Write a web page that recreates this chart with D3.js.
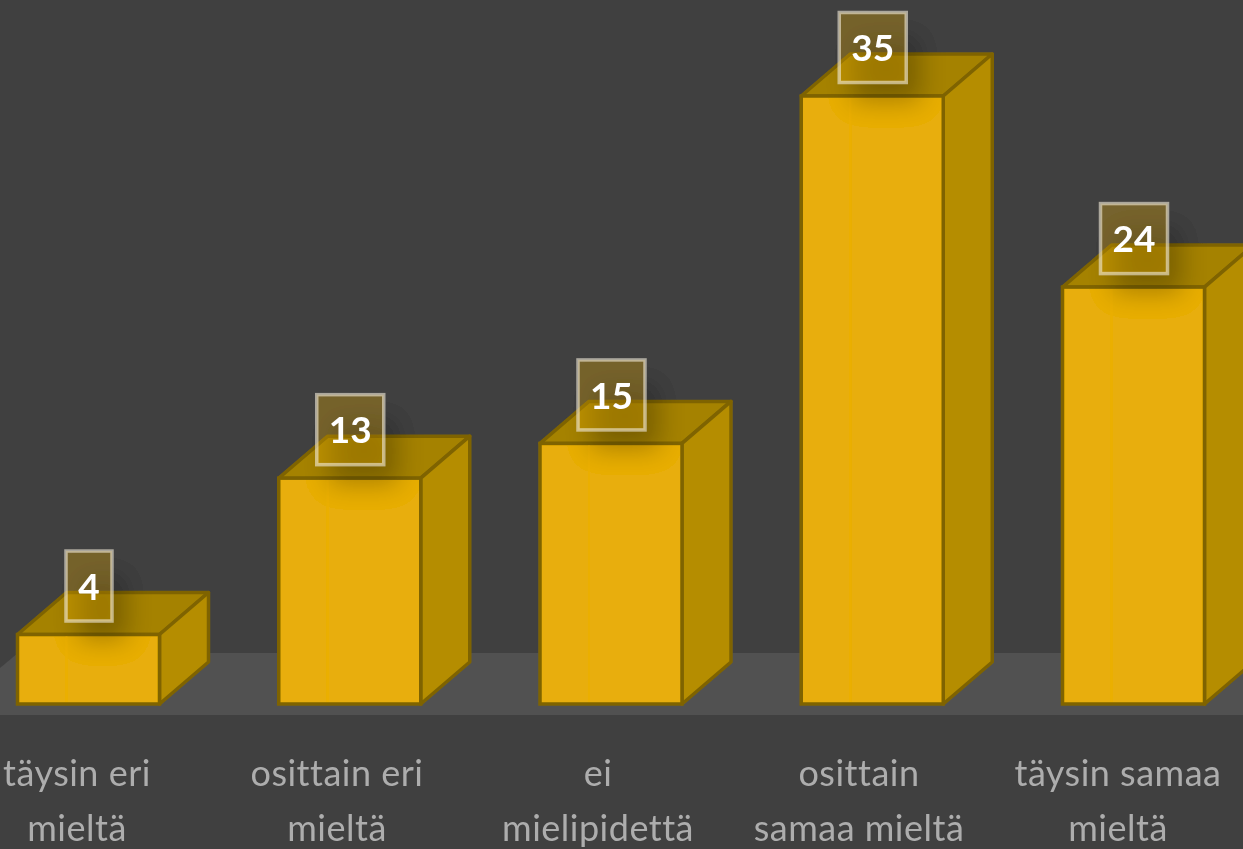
<!DOCTYPE html>
<html>
<head>
<meta charset="utf-8">
<script src="https://cdnjs.cloudflare.com/ajax/libs/d3/7.8.5/d3.min.js"></script>
<style>html,body{margin:0;padding:0;background:#404040;overflow:hidden}svg{display:block}</style>
</head>
<body>
<svg id="c" width="1243" height="849"></svg>
<script>
const categoryLines = [["täysin eri","mieltä"],["osittain eri","mieltä"],["ei","mielipidettä"],["osittain","samaa mieltä"],["täysin samaa","mieltä"]];
const values = [4,13,15,35,24];
const labelCentres = [77,337,598,859,1118];

const W=1243,H=849,dx=49,dy=-42,base=704;
const svg=d3.select("#c");
const defs=svg.append("defs");
defs.append("filter").attr("id","soft").attr("x","-5%").attr("y","-5%").attr("width","110%").attr("height","110%")
  .append("feGaussianBlur").attr("stdDeviation",0.7);
defs.append("filter").attr("id","shadow").attr("x","-80%").attr("y","-80%").attr("width","260%").attr("height","260%")
  .append("feGaussianBlur").attr("stdDeviation",13);
defs.append("filter").attr("id","txt").append("feGaussianBlur").attr("stdDeviation",0.5);

const x=d3.scaleBand().domain(d3.range(values.length)).range([17.5,1204.5]).paddingInner(119.25/261.25).paddingOuter(0);
const y=d3.scaleLinear().domain([0,35]).range([base,96]);
const line=d3.line();
const g=svg.append("g").attr("filter","url(#soft)");

g.append("rect").attr("width",W).attr("height",H).attr("fill","#404040");
g.append("path").attr("fill","#515151")
  .attr("d",line([[0,668],[18,653],[W,653],[W,715],[0,715]])+"Z");

const stroke="#7f6404";
const bars=g.selectAll("g.bar").data(values).join("g").attr("class","bar");
bars.each(function(v,i){
  const s=d3.select(this),l=x(i),r=l+x.bandwidth(),t=y(v);
  s.append("path").attr("fill","#a58206").attr("stroke",stroke).attr("stroke-width",3.5).attr("stroke-linejoin","round")
    .attr("d",line([[l,t],[l+dx,t+dy],[r+dx,t+dy],[r,t]])+"Z");
  s.append("path").attr("fill","#b58d05").attr("stroke",stroke).attr("stroke-width",3.5).attr("stroke-linejoin","round")
    .attr("d",line([[r,t],[r+dx,t+dy],[r+dx,base+dy],[r,base]])+"Z");
  s.append("rect").attr("x",l).attr("y",t).attr("width",x.bandwidth()).attr("height",base-t)
    .attr("fill","#e8ae07").attr("stroke",stroke).attr("stroke-width",3.5);
  s.append("line").attr("x1",l+dx).attr("x2",l+dx).attr("y1",t+2).attr("y2",base-2)
    .attr("stroke","#ecb000").attr("stroke-width",2).attr("opacity",.8);
});
bars.each(function(v,i){
  const cx=x(i)+x.bandwidth()/2,t=y(v),w=i==0?48:68;
  d3.select(this).append("rect").attr("x",cx-w/2+14).attr("y",t-60).attr("width",w).attr("height",66)
    .attr("fill","#000").attr("opacity",.26).attr("filter","url(#shadow)");
});
bars.each(function(v,i){
  const cx=x(i)+x.bandwidth()/2+0.5,t=y(v),w=i==0?46:67;
  const s=d3.select(this);
  s.append("rect").attr("x",cx-w/2).attr("y",t-83.5).attr("width",w).attr("height",70)
    .attr("fill","#e8ae07").attr("fill-opacity",.32).attr("stroke","#f4eddc").attr("stroke-opacity",.6).attr("stroke-width",3.5);
  s.append("text").attr("x",cx).attr("y",t-48).attr("dy","0.36em").attr("text-anchor","middle")
    .attr("font-family","Lato, 'Open Sans', sans-serif").attr("font-weight",700).attr("font-size",37)
    .attr("fill","#fff").text(v);
});
const labels=svg.append("g").attr("filter","url(#txt)");
categoryLines.forEach((lines,i)=>{
  lines.forEach((t,j)=>{
    labels.append("text").attr("x",labelCentres[i]).attr("y",786+j*55).attr("text-anchor","middle")
      .attr("font-family","Lato, 'Open Sans', sans-serif").attr("font-size",36).attr("letter-spacing","0.5px")
      .attr("fill","#adadad").text(t);
  });
});
</script>
</body>
</html>
